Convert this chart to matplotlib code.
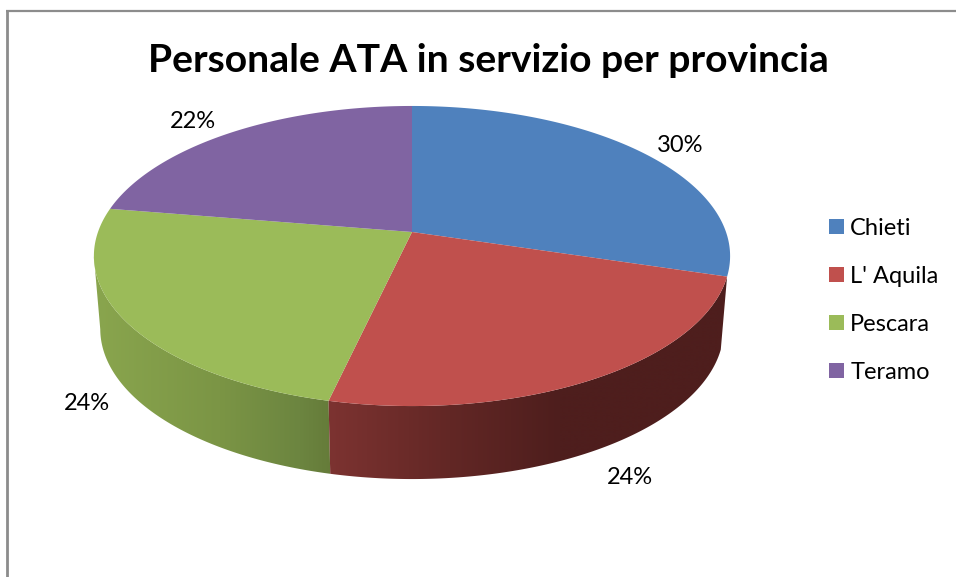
import matplotlib
matplotlib.use("Agg")
import matplotlib.pyplot as plt
import numpy as np
from matplotlib.patches import Polygon, Patch
from matplotlib.colors import to_rgb

plt.rcParams['font.family'] = ['Lato', 'DejaVu Sans']

TITLE = "Personale ATA in servizio per provincia"
PROVINCES = ["Chieti", "L' Aquila", "Pescara", "Teramo"]
SHARES = [29.7, 23.9, 24.0, 22.4]
LABELS = ["30%", "24%", "24%", "22%"]

COLORS = ["#4f81bd", "#c0504d", "#9bbb59", "#8064a2"]
# wall shading: list of (pixel x, colour) per slice, only the front slices have a wall
WALLS = {
    2: [(90, "#8aa64e"), (220, "#7b9545"), (300, "#6c8540"), (336, "#647a38")],
    1: [(325, "#7d3331"), (450, "#622725"), (560, "#4e1e1d"), (735, "#4e1e1d")],
}
LABEL_POS = [(680, 145), (630, 477), (87, 403), (193, 121)]

# pie projection, in pixels of the 956x577 image
CX, CY = 412, 232
RX, RY = 314, 146.2
PERSP = 0.16
DEPTH = 73
BOTTOM_SCALE = 0.98


def project(angle, r=1.0):
    # angle in degrees, clockwise from the top of the pie
    a = np.radians(angle)
    x = r * np.sin(a)
    y = r * np.cos(a)
    d = 1 + PERSP * y
    return CX + RX * x / d, CY - RY * y / d


def arc(start, end):
    t = np.linspace(start, end, 200)
    return project(t)


fig = plt.figure(figsize=(9.56, 5.77), dpi=100)
ax = fig.add_axes([0, 0, 1, 1])

edges = np.concatenate([[0], np.cumsum(SHARES)]) / sum(SHARES) * 360

# walls first, the top face covers what is behind it
for i, stops in WALLS.items():
    xs, ys = arc(edges[i], edges[i + 1])
    xb = CX + (xs - CX) * BOTTOM_SCALE
    yb = ys + DEPTH
    # stop both arcs at the left extreme so the side of the pie is a straight edge
    n = np.argmin(xs) + 1
    pts = np.column_stack([np.r_[xs[:n], xb[:n][::-1]], np.r_[ys[:n], yb[:n][::-1]]])
    sx = [s[0] for s in stops]
    grid = np.arange(sx[0], sx[-1] + 1)
    rgb = np.array([to_rgb(s[1]) for s in stops])
    img = np.stack([np.interp(grid, sx, rgb[:, c]) for c in range(3)], axis=-1)[None, :, :]
    poly = Polygon(pts, closed=True, fc="none", ec="none", transform=ax.transData)
    ax.add_patch(poly)
    im = ax.imshow(img, extent=(sx[0], sx[-1], 500, 200), aspect="auto", zorder=2,
                   interpolation="bilinear")
    im.set_clip_path(poly)

for i in range(len(SHARES)):
    xs, ys = arc(edges[i], edges[i + 1])
    pts = np.column_stack([np.r_[CX, xs], np.r_[CY, ys]])
    ax.add_patch(Polygon(pts, closed=True, fc=COLORS[i], ec="none", zorder=3))

for lab, (x, y) in zip(LABELS, LABEL_POS):
    ax.text(x, y, lab, fontsize=17, ha="center", va="center", color="black", zorder=4)

ax.text(488, 61, TITLE, fontsize=28.2, fontweight="bold", ha="center", va="center", color="black")

handles = [Patch(fc=c, ec="none") for c in COLORS]
ax.legend(handles, PROVINCES, loc="upper left", bbox_to_anchor=(829 / 956, 1 - 218 / 577),
          frameon=False, fontsize=17, borderpad=0, borderaxespad=0,
          handlelength=0.635, handleheight=0.635, handletextpad=0.26, labelspacing=1.14,
          labelcolor="black")

# chart area border, only top and left are inside the crop
ax.plot([7.5, 7.5], [577, 11], color="#8c8c8c", lw=2.0, solid_capstyle="butt", zorder=5)
ax.plot([6.5, 956], [11, 11], color="#8c8c8c", lw=1.6, solid_capstyle="butt", zorder=5)

ax.set_xlim(0, 956)
ax.set_ylim(577, 0)
ax.axis("off")

fig.savefig("out.png", dpi=100, facecolor="white")
